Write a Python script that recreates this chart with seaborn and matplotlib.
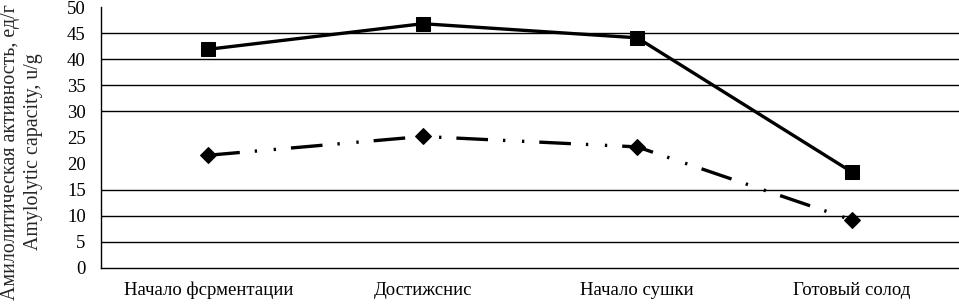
import pandas as pd
import matplotlib
matplotlib.use("Agg")
import matplotlib.pyplot as plt
import seaborn as sns

# categories along the x axis (as printed in the source)
stages = ["Начало фсрментации", "Достижснис", "Начало сушки", "Готовый солод"]
# upper series (squares, solid line)
series_a = [41.9, 46.8, 44.1, 18.4]
# lower series (diamonds, dash-dot-dot line)
series_b = [21.6, 25.2, 23.2, 9.2]
y_ticks = [0, 5, 10, 15, 20, 25, 30, 35, 40, 45, 50]

sns.set_style("white")
plt.rcParams['font.family'] = ['Liberation Serif', 'DejaVu Serif']

df = pd.DataFrame({"stage": stages, "a": series_a, "b": series_b})
df["pos"] = range(len(stages))

fig = plt.figure(figsize=(9.59, 3.04), dpi=100)
ax = fig.add_axes([101 / 959, 36 / 304, 858 / 959, 261 / 304])

# grid lines (the reference has none at 20, 25 and 50)
for v in y_ticks[1:]:
    if v in (20, 25, 50):
        continue
    ax.axhline(v, color="black", linewidth=1.0, zorder=0)

sns.lineplot(data=df, x="pos", y="a", ax=ax, color="black", linewidth=2.4,
             marker="s", markersize=10, markeredgecolor="black", zorder=3)
sns.lineplot(data=df, x="pos", y="b", ax=ax, color="black", linewidth=2.4,
             marker="D", markersize=8, markeredgecolor="black", zorder=3,
             linestyle=(0, (9.5, 4.5, 0.7, 5.0, 0.7, 4.5)))

ax.set_xlim(-0.5, 3.5)
ax.set_ylim(0, 50)
ax.set_yticks(y_ticks)
ax.set_xticks(df["pos"])
ax.set_xticklabels(stages)
ax.tick_params(axis="both", length=0, labelsize=13.5, colors="black")
ax.tick_params(axis="y", pad=11)
ax.tick_params(axis="x", pad=10)
ax.set_xlabel("")
ax.set_ylabel("")

fig.text(22 / 959, 1 - 152 / 304,
         "Амилолитическая активность, ед/г\nAmylolytic capacity, u/g",
         rotation=90, ha="center", va="center", fontsize=14.3,
         linespacing=1.25)

for side in ["top", "right"]:
    ax.spines[side].set_visible(False)
for side in ["left", "bottom"]:
    ax.spines[side].set_color("black")
    ax.spines[side].set_linewidth(1.0)

fig.savefig("out.png", dpi=100)
